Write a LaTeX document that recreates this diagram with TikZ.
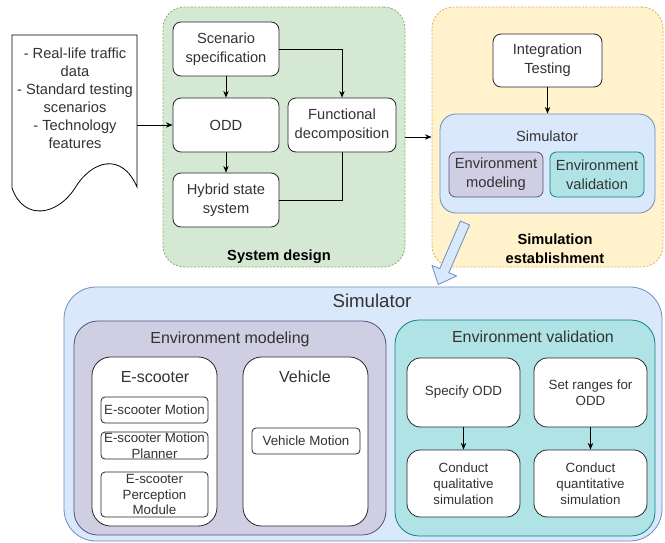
\documentclass[tikz,border=0pt]{standalone}
\usepackage{fontspec}
\setmainfont{Liberation Sans}
\usetikzlibrary{arrows.meta,positioning,fit,calc}
\definecolor{sdfill}{HTML}{D5E8D4}
\definecolor{sdline}{HTML}{82B366}
\definecolor{sefill}{HTML}{FFF2CC}
\definecolor{seline}{HTML}{D6B656}
\definecolor{simfill}{HTML}{DAE8FC}
\definecolor{simline}{HTML}{6C8EBF}
\definecolor{modfill}{HTML}{D0CEE2}
\definecolor{modline}{HTML}{56517E}
\definecolor{valfill}{HTML}{B0E3E6}
\definecolor{valline}{HTML}{0E8088}
\tikzset{
    line/.style={line width=0.6pt},
    arr/.style={line,-{Stealth[length=5pt,width=4pt]}},
    wh/.style 2 args={minimum width=#1*0.75pt,minimum height=#2*0.75pt},
    box/.style={line,draw=black!85,fill=white,rounded corners=6pt,inner sep=0pt,align=center},
    smallbox/.style={box,rounded corners=3pt,small font},
    group/.style={line,rounded corners=16pt,inner sep=0pt},
    dashgroup/.style={group,dash pattern=on 1.5pt off 1.2pt},
    bigarrow/.style={line,fill=simfill,draw=simline,line join=round},
    title font/.style={font=\fontsize{12}{14}\selectfont},
    big font/.style={font=\fontsize{14}{16}\selectfont},
    small font/.style={font=\fontsize{10}{11.8}\selectfont},
    bold label/.style={font=\fontsize{11}{14}\selectfont\bfseries,text=black,align=center},
}
\tikzstyle{every node}=[font=\fontsize{11}{14}\selectfont,text=black!80,align=center]

\begin{document}
\begin{tikzpicture}[x=0.75pt,y=-0.75pt]
    \useasboundingbox (0,0) rectangle (665,543);
    % input document
    \node[fit={(12,35) (137,187)},inner sep=0pt] (docbox) {};
    \draw[line,fill=white] (12,35) -- (137,35) -- (137,187)
        .. controls (122,152) and (92,160) .. (75,188)
        .. controls (58,215) and (24,222) .. (12,188) -- cycle;
    \node[font=\fontsize{11}{13.5}\selectfont] (doctext) at (75,98)
        {- Real-life traffic\\data\\- Standard testing\\scenarios\\- Technology\\features};
    % system design
    \node[dashgroup,fill=sdfill,draw=sdline,fit={(163,7) (405,267)}] (sysdesign) {};
    \node[box,wh={106}{54}] (scen) at (226,49) {Scenario\\specification};
    \node[box,wh={106}{54}] (odd) at (226,125) {ODD};
    \node[box,wh={106}{54}] (hybrid) at (226,200) {Hybrid state\\system};
    \node[box,wh={108}{54}] (func) at (342,125) {Functional\\decomposition};
    \node[bold label] (sdlabel) at (279,257) {System design};
    \draw[arr] (scen) -- (odd);
    \draw[arr] (odd) -- (hybrid);
    \draw[arr] (scen.east) -| (func.north);
    \draw[line] (hybrid.east) -| (func.south);
    \draw[arr] (docbox.east |- odd) -- (odd);
    % simulation establishment
    \node[dashgroup,fill=sefill,draw=seline,fit={(432,7) (663,267)}] (simest) {};
    \node[box,wh={109}{53}] (integ) at (547.5,60.5) {Integration\\Testing};
    \node[group,rounded corners=12pt,fill=simfill,draw=simline,fit={(440,114) (655,213)}] (simtop) {};
    \node (simtoptitle) at (547,136) {Simulator};
    \node[box,rounded corners=5pt,fill=modfill,draw=modline,wh={94}{45}] (envmodtop) at (496,174.5) {Environment\\modeling};
    \node[box,rounded corners=5pt,fill=valfill,draw=valline,wh={94}{45}] (envvaltop) at (597,174.5) {Environment\\validation};
    \node[bold label] (selabel) at (555,249) {Simulation\\establishment};
    \draw[arr] (integ) -- (simtop);
    \draw[arr] (sysdesign.east) -- (simest.west);
    % zoom arrow
    \begin{scope}[shift={(465,223)},rotate=-113.5]
        \draw[bigarrow] (0,-5) -- (52,-5) -- (52,-13.5) -- (67,0) -- (52,13.5) -- (52,5) -- (0,5) -- cycle;
    \end{scope}
    % simulator detail
    \node[group,rounded corners=24pt,fill=simfill,draw=simline,fit={(64,287) (662,541)}] (simbot) {};
    \node[big font] (simbottitle) at (372,301) {Simulator};
    \node[group,rounded corners=18pt,fill=modfill,draw=modline,fit={(74,321) (386,535)}] (envmod) {};
    \node[title font] (envmodtitle) at (230,339) {Environment modeling};
    \node[box,rounded corners=14pt,fit={(92,357) (217,526)}] (scooter) {};
    \node[title font] (scootertitle) at (155,377) {E-scooter};
    \node[smallbox,wh={107}{26}] (scmotion) at (154.5,410) {E-scooter Motion};
    \node[smallbox,wh={107}{27}] (scplanner) at (154.5,445.5) {};
    \node[small font] (scplannertext) at (scplanner) {E-scooter Motion\\Planner};
    \node[smallbox,wh={107}{45}] (scpercep) at (154.5,494.5) {};
    \node[font=\fontsize{10}{11.6}\selectfont] (scpercektext) at (scpercep) {E-scooter\\Perception\\Module};
    \node[box,rounded corners=14pt,fit={(243,357) (368,526)}] (vehicle) {};
    \node[title font] (vehtitle) at (305,377) {Vehicle};
    \node[smallbox,wh={108}{26}] (vehmotion) at (306,441) {Vehicle Motion};
    \node[group,rounded corners=18pt,fill=valfill,draw=valline,fit={(395,320) (655,536)}] (envval) {};
    \node[title font] (envvaltitle) at (533,337) {Environment validation};
    \node[box,rounded corners=10pt,small font,wh={113}{69}] (specodd) at (463.5,392.5) {Specify ODD};
    \node[box,rounded corners=10pt,small font,wh={113}{69}] (setrange) at (590.5,392.5) {Set ranges for\\ODD};
    \node[box,rounded corners=10pt,small font,wh={113}{67}] (qualsim) at (463.5,483.5) {Conduct\\qualitative\\simulation};
    \node[box,rounded corners=10pt,small font,wh={113}{67}] (quantsim) at (590.5,483.5) {Conduct\\quantitative\\simulation};
    \draw[arr] (specodd) -- (qualsim);
    \draw[arr] (setrange) -- (quantsim);
\end{tikzpicture}
\end{document}
